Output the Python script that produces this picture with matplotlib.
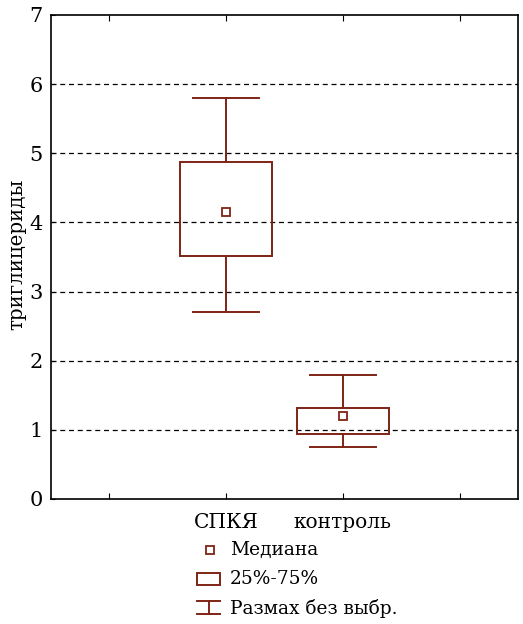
import numpy as np
import matplotlib.pyplot as plt
from matplotlib.patches import Rectangle
from matplotlib.lines import Line2D

groups = ["СПКЯ", "контроль"]
medians = [4.15, 1.20]
q25 = [3.51, 0.94]
q75 = [4.87, 1.31]
w_low = [2.70, 0.75]
w_high = [5.80, 1.79]

red = "#7e2414"
plt.rcParams['font.family'] = ['DejaVu Serif']

fig = plt.figure(figsize=(5.23, 6.24), dpi=100)
ax = fig.add_axes([51/523, 125/624, 467/523, 484/624])

pos = np.arange(1, len(groups) + 1)
box_w = 0.79
cap_w = 0.56
lw = 1.4
for x, md, lo, hi, wl, wh in zip(pos, medians, q25, q75, w_low, w_high):
    ax.add_patch(Rectangle((x - box_w/2, lo), box_w, hi - lo, fill=False,
                           edgecolor=red, lw=lw, zorder=3))
    ax.plot([x, x], [hi, wh], color=red, lw=lw, zorder=3)
    ax.plot([x, x], [wl, lo], color=red, lw=lw, zorder=3)
    ax.plot([x - cap_w/2, x + cap_w/2], [wh, wh], color=red, lw=lw, zorder=3)
    ax.plot([x - cap_w/2, x + cap_w/2], [wl, wl], color=red, lw=lw, zorder=3)
    ax.plot([x], [md], marker='s', ms=5.5, mfc='white', mec=red, mew=1.3,
            ls='none', zorder=4)

ax.set_xlim(-0.5, 3.5)
ax.set_ylim(0, 7)
ax.set_xticks([0, 1, 2, 3])
ax.set_xticklabels(["", groups[0], groups[1], ""], fontsize=14.5)
ax.set_yticks(range(0, 8))
ax.tick_params(axis='x', direction='in', length=4, top=True, pad=10)
ax.tick_params(axis='y', direction='in', length=3, labelsize=15, pad=6)
for y in range(1, 7):
    ax.axhline(y, color='black', lw=0.9, ls=(0, (4, 3)), zorder=1)
for s in ax.spines.values():
    s.set_linewidth(1.2)
ax.set_ylabel("триглицериды", fontsize=14.3)
ax.yaxis.set_label_coords(-0.052, 0.505)


def px(x, y):
    return x / 523, 1 - y / 624


# legend
fig.add_artist(Line2D([px(210, 0)[0]], [px(0, 549.5)[1]], marker='s', ms=5.5,
                      mfc='white', mec=red, mew=1.3, ls='none',
                      transform=fig.transFigure))
x0, y0 = px(197, 585)
x1, y1 = px(220, 573)
fig.add_artist(Rectangle((x0, y0), x1 - x0, y1 - y0, fill=False, edgecolor=red,
                         lw=lw, transform=fig.transFigure))
for a, b in [((197, 601), (220, 601)), ((197, 614), (220, 614)), ((208.5, 601), (208.5, 614))]:
    (xa, ya), (xb, yb) = px(*a), px(*b)
    fig.add_artist(Line2D([xa, xb], [ya, yb], color=red, lw=lw,
                          transform=fig.transFigure))
for yy, txt in [(549.5, "Медиана"), (579, "25%-75%"), (608, "Размах без выбр.")]:
    fig.text(px(230, 0)[0], px(0, yy)[1], txt, fontsize=13.4, va='center', ha='left')

fig.savefig("out.png", dpi=100)
